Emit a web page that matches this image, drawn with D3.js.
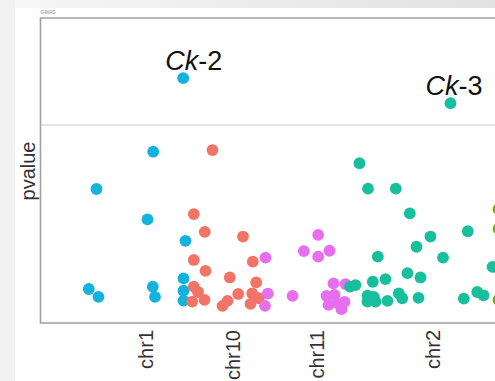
<!DOCTYPE html>
<html>
<head>
<meta charset="utf-8">
<script src="https://cdn.jsdelivr.net/npm/d3@7"></script>
<style>
  body { margin: 0; background: #fff; }
  svg { display: block; font-family: "Liberation Sans", Arial, sans-serif; }
</style>
</head>
<body>
<svg id="chart"></svg>
<script>
// chromosome names and the middle of each one (cumulative Mb)
var chroms = ["chr1", "chr10", "chr11", "chr2", "chr3"];
var chromMid = [105, 192, 276, 392, 500];
var chromColors = ["#13b3dd", "#f27466", "#e86ef0", "#18bf9c", "#72ad0c"];

// points: [chromosome index, position (cumulative Mb), -log10 p]
var chr1Pts = [[0,142.7,7.42],[0,112.7,5.19],[0,56,4.06],[0,107,3.14],[0,145,2.49],
  [0,48.3,1.03],[0,58,0.79],[0,112.3,1.10],[0,114.5,0.79],[0,143,1.35],[0,143,0.98],[0,143,0.68]];
var chr10Pts = [[1,172,5.24],[1,153.3,3.30],[1,164.3,2.76],[1,202.5,2.62],[1,153.3,1.91],
  [1,212.3,1.86],[1,165,1.58],[1,189.3,1.38],[1,215.7,1.23],[1,153.3,1.10],[1,157.5,0.94],
  [1,164,0.70],[1,151.7,0.65],[1,197.7,0.88],[1,211.7,0.90],[1,218.3,0.75],[1,210,0.58],
  [1,182,0.52],[1,187,0.67]];
var chr11Pts = [[2,225,1.98],[2,227.3,0.89],[2,224.5,0.52],[2,252,0.82],[2,277.7,2.67],
  [2,263.3,2.18],[2,277.7,2.01],[2,289,2.19],[2,293,1.20],[2,305,1.18],[2,286,0.82],
  [2,294,0.85],[2,288,0.55],[2,296,0.61],[2,301,0.42],[2,304,0.64]];
var chr2Pts = [[3,410,6.66],[3,319,4.84],[3,327.5,4.07],[3,355.3,4.07],[3,369.3,3.32],
  [3,390,2.62],[3,427.3,2.78],[3,376,2.31],[3,402.5,1.98],[3,337.3,2.01],[3,367,1.51],
  [3,380,1.38],[3,345,1.33],[3,332.3,1.25],[3,315,1.15],[3,309.5,1.10],[3,327,0.83],
  [3,333.3,0.79],[3,327,0.65],[3,335,0.65],[3,347,0.67],[3,358.3,0.90],[3,361.7,0.75],
  [3,378,0.76],[3,423.3,0.74],[3,436.7,0.94],[3,443,0.84],[3,452,1.70]];
var chr3Pts = [[4,458,3.45],[4,458,2.85],[4,458,0.70]];

var threshold = 6;
var yMax = 9.242;

// highlighted genes: [label italic part, rest, chromosome index, point index]
var geneLabels = [["Ck", "-2", 0, 0], ["Ck", "-3", 3, 0]];

var width = 495, height = 381;
var mLeft = 40.5, mTop = 18, mBottom = 323, mRight = 530;

var svg = d3.select("#chart").attr("width", width).attr("height", height);

// page background from the screenshot
var grad = svg.append("defs").append("linearGradient").attr("id", "topg");
grad.append("stop").attr("offset", "0%").attr("stop-color", "#f7f7f7");
grad.append("stop").attr("offset", "100%").attr("stop-color", "#e2e2e2");
svg.append("rect").attr("x", 0).attr("y", 0).attr("width", width).attr("height", 8).attr("fill", "url(#topg)");
svg.append("rect").attr("x", 0).attr("y", 0).attr("width", 15).attr("height", height).attr("fill", "#f1f1f1");

var x = d3.scaleLinear().domain([0, mRight - mLeft]).range([mLeft, mRight]);
var y = d3.scaleLinear().domain([0, yMax]).range([mBottom, mTop]);

// threshold line
svg.append("line")
  .attr("x1", mLeft).attr("x2", mRight)
  .attr("y1", y(threshold)).attr("y2", y(threshold))
  .attr("stroke", "#dddada").attr("stroke-width", 1.6);

// frame
svg.append("path")
  .attr("d", "M" + mRight + "," + mTop + "H" + mLeft + "V" + mBottom + "H" + mRight)
  .attr("fill", "none").attr("stroke", "#a0a0a0").attr("stroke-width", 1.6);

svg.append("text").attr("x", mLeft).attr("y", 14)
  .attr("font-size", 5).attr("fill", "#888").text("GWAS");

// x axis labels (only the chromosomes that fall inside the frame)
var visibleMid = chromMid.filter(function(d) { return x(d) < width; });
var xAxis = d3.axisBottom(x).tickValues(visibleMid)
  .tickFormat(function(d) { return chroms[chromMid.indexOf(d)]; })
  .tickSize(0).tickSizeOuter(0);
var gx = svg.append("g").attr("transform", "translate(0," + mBottom + ")").call(xAxis);
gx.select(".domain").remove();
gx.selectAll(".tick line").remove();
gx.selectAll(".tick text")
  .attr("font-size", 20).attr("fill", "#333")
  .attr("font-family", "Liberation Sans, Arial, sans-serif")
  .attr("text-anchor", "end")
  .attr("transform", "rotate(-90)")
  .attr("x", -7).attr("y", 0).attr("dy", "0.36em");

// y title
svg.append("text")
  .attr("transform", "translate(35,171) rotate(-90)")
  .attr("text-anchor", "middle")
  .attr("font-size", 20).attr("fill", "#333")
  .text("pvalue");

var all = chr1Pts.concat(chr10Pts, chr11Pts, chr2Pts, chr3Pts);

svg.append("g").selectAll("circle")
  .data(all)
  .enter()
  .append("circle")
  .attr("cx", function(d) { return x(d[1]); })
  .attr("cy", function(d) { return y(d[2]); })
  .attr("r", 5.9)
  .attr("fill", function(d) { return chromColors[d[0]]; });

var groups = [chr1Pts, chr10Pts, chr11Pts, chr2Pts, chr3Pts];
var labelDx = [-18, -25];
geneLabels.forEach(function(g, i) {
  var p = groups[g[2]][g[3]];
  var t = svg.append("text")
    .attr("x", x(p[1]) + labelDx[i])
    .attr("y", y(p[2]) - 8)
    .attr("font-size", 27).attr("fill", "#111");
  t.append("tspan").attr("font-style", "italic").text(g[0]);
  t.append("tspan").text(g[1]);
});
</script>
</body>
</html>
